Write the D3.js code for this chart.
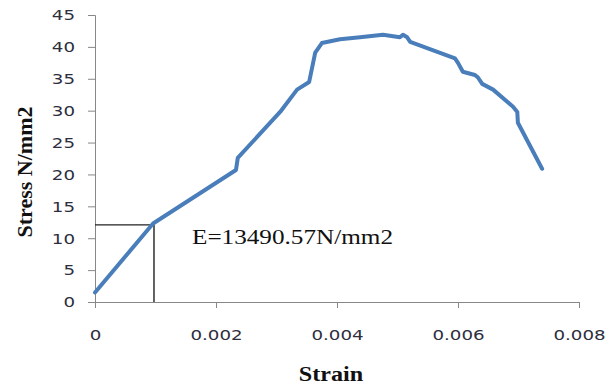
<!DOCTYPE html>
<html>
<head>
<meta charset="utf-8">
<script src="https://cdn.jsdelivr.net/npm/d3@7"></script>
<style>
  body { margin: 0; background: #fff; }
  svg { display: block; }
</style>
</head>
<body>
<svg id="chart" width="614" height="385"></svg>
<script>
// stress-strain readings
const strain = [0, 0.00096, 0.00233, 0.00236, 0.00306, 0.00334, 0.00354, 0.00364, 0.00375,
  0.00405, 0.00438, 0.00476, 0.00504, 0.00509, 0.00516, 0.00521, 0.00595, 0.00600, 0.00608,
  0.00628, 0.00633, 0.00640, 0.00658, 0.00691, 0.00698, 0.00699, 0.00739]
const stress = [1.5, 12.3, 20.7, 22.6, 29.8, 33.3, 34.5, 39.1, 40.6,
  41.2, 41.5, 41.9, 41.5, 41.9, 41.5, 40.8, 38.2, 37.5, 36.1,
  35.6, 35.2, 34.2, 33.3, 30.6, 29.8, 28.1, 20.9]

const xTicks = [0, 0.002, 0.004, 0.006, 0.008]
const yTicks = [0, 5, 10, 15, 20, 25, 30, 35, 40, 45]

// modulus marker point (strain, stress)
const ePoint = [0.000975, 12.1]
const eLabel = "E=13490.57N/mm2"

const svg = d3.select("#chart")
const margin = {top: 15, right: 35, bottom: 83, left: 95}
const W = 614, H = 385
const w = W - margin.left - margin.right, h = H - margin.top - margin.bottom

const x = d3.scaleLinear().domain([0, 0.008]).range([0, w])
const y = d3.scaleLinear().domain([0, 45]).range([h, 0])

const g = svg.append("g").attr("transform", `translate(${margin.left},${margin.top})`)

const axisCol = "#878787"
const tickCol = "#2e2e3e"

// x axis
const gx = g.append("g").attr("transform", `translate(0,${h})`)
  .call(d3.axisBottom(x).tickValues(xTicks).tickSize(6).tickSizeOuter(6)
    .tickFormat(d => d === 0 ? "0" : d3.format(".3f")(d)))
gx.select(".domain").attr("stroke", axisCol)
gx.selectAll(".tick line").attr("stroke", axisCol)
gx.selectAll("text")
  .attr("y", 0).attr("dy", 0)
  .attr("transform", "translate(0,38) scale(1.35,1)")
  .attr("fill", tickCol)
  .style("font", "13.5px 'DejaVu Sans'")

// y axis
const gy = g.append("g")
  .call(d3.axisLeft(y).tickValues(yTicks).tickSize(7).tickSizeOuter(7))
gy.select(".domain").attr("stroke", axisCol)
gy.selectAll(".tick line").attr("stroke", axisCol)
gy.selectAll("text")
  .attr("x", 0).attr("dy", "0.36em")
  .attr("transform", "translate(-20,0) scale(1.35,1)")
  .attr("fill", tickCol)
  .style("font", "13.5px 'DejaVu Sans'")

// modulus guide lines
g.append("path")
  .attr("d", `M${x(0)},${y(ePoint[1])}H${x(ePoint[0])}V${y(0)}`)
  .attr("fill", "none")
  .attr("stroke", "#222")
  .attr("stroke-width", 1.4)

// curve
const pts = strain.map((s, i) => [s, stress[i]])
g.append("path")
  .datum(pts)
  .attr("d", d3.line().x(d => x(d[0])).y(d => y(d[1])))
  .attr("fill", "none")
  .attr("stroke", "#4a7ebb")
  .attr("stroke-width", 4)
  .attr("stroke-linejoin", "round")
  .attr("stroke-linecap", "round")

// E label
g.append("text")
  .attr("transform", `translate(${x(ePoint[0]) + 38},${y(9.1)}) scale(1.2,1)`)
  .style("font", "21px 'Liberation Serif'")
  .attr("fill", "#111")
  .text(eLabel)

// axis titles
svg.append("text")
  .attr("transform", `translate(${margin.left + w / 2 - 6},381) scale(1.15,1)`)
  .attr("text-anchor", "middle")
  .style("font", "bold 21px 'Liberation Serif'")
  .attr("fill", "#111")
  .text("Strain")

svg.append("text")
  .attr("transform", "translate(32,172) rotate(-90)")
  .attr("text-anchor", "middle")
  .style("font", "bold 22px 'Liberation Serif'")
  .attr("fill", "#111")
  .text("Stress N/mm2")
</script>
</body>
</html>
